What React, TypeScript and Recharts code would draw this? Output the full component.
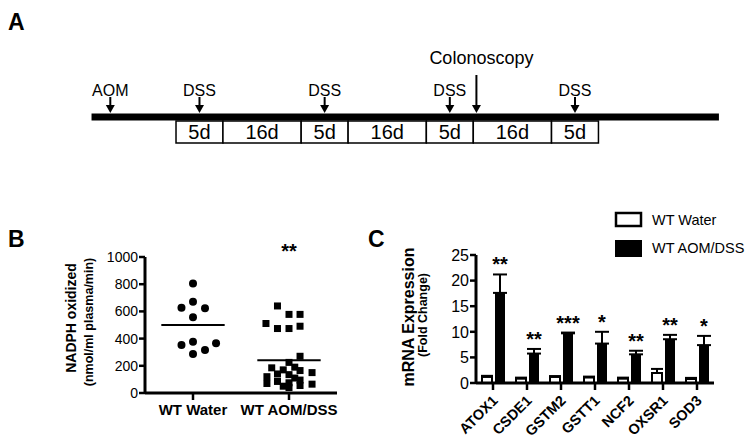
import React from 'react';
import {
  ComposedChart,
  ScatterChart,
  Scatter,
  XAxis,
  YAxis,
  ReferenceLine,
  ReferenceArea,
  ReferenceDot,
  BarChart,
  Bar,
  ErrorBar,
} from 'recharts';

const FONT = '"Liberation Sans", Arial, Helvetica, sans-serif';

// ---------------- Panel A: treatment timeline ----------------
const segmentLabels = ['5d', '16d', '5d', '16d', '5d', '16d', '5d'];
const segmentUnits = [3, 5, 3, 5, 3, 5, 3];
const eventLabels = ['AOM', 'DSS', 'DSS', 'DSS', 'DSS', 'Colonoscopy'];
const eventPositions = [-4.2, 1.5, 9.5, 17.5, 25.5, 19.2];
const timelineStart = -5.4;
const timelineEnd = 34.7;

// ---------------- Panel B: NADPH oxidized ----------------
const groupNames = ['WT Water', 'WT AOM/DSS'];
const waterValues = [806, 671, 627, 623, 557, 353, 377, 365, 316, 287];
const waterJitter = [0, 0, -0.12, 0.125, 0, -0.12, 0, 0.24, 0.125, 0];
const aomValues = [
  640, 578, 578, 511, 474, 474, 491,
  270, 225, 185, 190, 170, 165, 150, 140, 135, 120, 110, 95, 85, 70, 75, 65, 55, 50, 40,
];
const aomJitter = [
  -0.12, 0, 0.115, -0.24, -0.12, 0, 0.115,
  0.115, 0, -0.18, 0.06, -0.06, 0.115, 0.24, -0.12, 0, -0.23, 0.06, 0.115, -0.12, -0.23, 0, 0.24, 0.115, -0.06, 0,
];
const groupMeans = [500, 240];
const yTicksB = [0, 200, 400, 600, 800, 1000];
const sigB = '**';

// ---------------- Panel C: mRNA expression ----------------
const genes = ['ATOX1', 'CSDE1', 'GSTM2', 'GSTT1', 'NCF2', 'OXSR1', 'SOD3'];
const waterFold = [1.2, 0.9, 1.2, 1.1, 0.9, 1.95, 0.8];
const waterSem = [0.2, 0.15, 0.15, 0.15, 0.15, 0.8, 0.2];
const aomFold = [17.6, 5.75, 9.7, 7.7, 5.6, 8.55, 7.4];
const aomSem = [3.6, 0.9, 0.15, 2.3, 0.7, 0.85, 1.8];
const sigC = ['**', '**', '***', '*', '**', '**', '*'];
const yTicksC = [0, 5, 10, 15, 20, 25];
const seriesNamesC = ['WT Water', 'WT AOM/DSS'];

// ---------------- Panel A ----------------
const ArrowShape = (props: any) => {
  const { cx, cy, payload } = props;
  const long = payload.label === 'Colonoscopy';
  const shaftTop = cy - (long ? 38 : 16);
  const headH = 8;
  const headW = 4.5;
  return (
    <g>
      <line x1={cx} x2={cx} y1={shaftTop} y2={cy - headH + 1} stroke="#000" strokeWidth={2} />
      <polygon points={`${cx - headW},${cy - headH} ${cx + headW},${cy - headH} ${cx},${cy}`} fill="#000" />
      <text
        x={long ? cx + 5 : cx}
        y={long ? cy - 49 : cy - 17}
        textAnchor="middle"
        fontSize={long ? 18 : 16}
        fontFamily={FONT}
        fill="#000"
      >
        {payload.label}
      </text>
    </g>
  );
};

function PanelA() {
  let acc = 0;
  const boxes = segmentLabels.map((label, i) => {
    const x1 = acc;
    acc += segmentUnits[i];
    return { label, x1, x2: acc };
  });
  const events = eventLabels.map((label, i) => ({ x: eventPositions[i], y: 113, label }));
  return (
    <ComposedChart width={751} height={160} margin={{ top: 0, right: 0, bottom: 0, left: 0 }} data={events}>
      <XAxis type="number" dataKey="x" domain={[-11.25, 36.75]} hide allowDataOverflow />
      <YAxis type="number" dataKey="y" domain={[0, 160]} reversed hide allowDataOverflow />
      <ReferenceLine
        segment={[{ x: timelineStart, y: 117 }, { x: timelineEnd, y: 117 }]}
        stroke="#000"
        strokeWidth={7}
      />
      {boxes.map((b, i) => (
        <ReferenceArea
          key={i}
          x1={b.x1}
          x2={b.x2}
          y1={121}
          y2={143}
          fill="#fff"
          fillOpacity={1}
          stroke="#000"
          strokeWidth={1.5}
          label={{ value: b.label, position: 'center', fontSize: 20, fill: '#000', fontFamily: FONT }}
        />
      ))}
      <Scatter data={events} dataKey="y" isAnimationActive={false} shape={ArrowShape} />
    </ComposedChart>
  );
}

// ---------------- Panel B ----------------
const CircleDot = (p: any) => <circle cx={p.cx} cy={p.cy} r={4} fill="#000" />;
const SquareDot = (p: any) => <rect x={p.cx - 3.5} y={p.cy - 3.5} width={7} height={7} fill="#000" />;

const YTickB = (p: any) => (
  <text x={p.x} y={p.y} dy="0.36em" textAnchor="end" fontSize={14} fontFamily={FONT} fill="#000">
    {p.payload.value}
  </text>
);

const XTickB = (p: any) => (
  <text x={p.x} y={p.y} dy="0.72em" textAnchor="middle" fontSize={15} fontWeight="bold" fontFamily={FONT} fill="#000">
    {groupNames[p.payload.value - 1]}
  </text>
);

function PanelB() {
  const water = waterValues.map((v, i) => ({ x: 1 + waterJitter[i], y: v }));
  const aom = aomValues.map((v, i) => ({ x: 2 + aomJitter[i], y: v }));
  return (
    <ScatterChart width={360} height={213} margin={{ top: 27, right: 23, bottom: 20, left: 0 }}>
      <XAxis
        type="number"
        dataKey="x"
        domain={[0.5, 2.5]}
        ticks={[1, 2]}
        interval={0}
        height={30}
        tickSize={7}
        tickMargin={4}
        axisLine={{ stroke: '#000', strokeWidth: 3 }}
        tickLine={{ stroke: '#000', strokeWidth: 2.5 }}
        tick={XTickB}
        allowDataOverflow
      />
      <YAxis
        type="number"
        dataKey="y"
        domain={[0, 1000]}
        ticks={yTicksB}
        interval={0}
        width={145}
        tickSize={6}
        tickMargin={1}
        axisLine={{ stroke: '#000', strokeWidth: 3 }}
        tickLine={{ stroke: '#000', strokeWidth: 2.5 }}
        tick={YTickB}
        allowDataOverflow
      />
      {groupMeans.map((m, i) => (
        <ReferenceLine
          key={i}
          segment={[{ x: i + 1 - 0.33, y: m }, { x: i + 1 + 0.33, y: m }]}
          stroke="#000"
          strokeWidth={2}
        />
      ))}
      <Scatter data={water} fill="#000" shape={CircleDot} isAnimationActive={false} />
      <Scatter data={aom} fill="#000" shape={SquareDot} isAnimationActive={false} />
      <ReferenceDot
        x={2}
        y={1000}
        r={0}
        ifOverflow="visible"
        shape={(p: any) => (
          <text x={p.cx} y={p.cy + 1} textAnchor="middle" fontSize={20} fontWeight="bold" fontFamily={FONT} fill="#000">
            {sigB}
          </text>
        )}
      />
    </ScatterChart>
  );
}

// ---------------- Panel C ----------------
const YTickC = (p: any) => (
  <text x={p.x} y={p.y} dy="0.36em" textAnchor="end" fontSize={16} fontFamily={FONT} fill="#000">
    {p.payload.value}
  </text>
);

const GeneTick = (p: any) => (
  <g transform={`translate(${p.x + 2},${p.y + 6}) rotate(-45)`}>
    <text x={0} y={0} dy="0.35em" textAnchor="end" fontSize={14.5} fontWeight="bold" fontFamily={FONT} fill="#000">
      {p.payload.value}
    </text>
  </g>
);

const AomBarShape = (p: any) => {
  const { x, y, width, height, payload } = p;
  const pxPerUnit = payload.aom > 0 ? height / payload.aom : 0;
  const errTop = y - payload.aomSemV * pxPerUnit;
  return (
    <g>
      <rect x={x} y={y} width={width} height={height} fill="#000" />
      <text
        x={x + width / 2}
        y={errTop - 3}
        textAnchor="middle"
        fontSize={20}
        fontWeight="bold"
        fontFamily={FONT}
        fill="#000"
      >
        {payload.sig}
      </text>
    </g>
  );
};

function PanelC() {
  const data = genes.map((g, i) => ({
    gene: g,
    water: waterFold[i],
    waterErr: [0, waterSem[i]],
    aom: aomFold[i],
    aomErr: [0, aomSem[i]],
    aomSemV: aomSem[i],
    sig: sigC[i],
  }));
  return (
    <BarChart
      width={391}
      height={213}
      data={data}
      margin={{ top: 25, right: 37, bottom: 0, left: 0 }}
      barSize={10}
      barGap={3}
      barCategoryGap={0}
    >
      <XAxis
        dataKey="gene"
        interval={0}
        height={60}
        tickSize={7}
        tickMargin={2}
        axisLine={{ stroke: '#000', strokeWidth: 3 }}
        tickLine={{ stroke: '#000', strokeWidth: 2.5 }}
        tick={GeneTick}
      />
      <YAxis
        type="number"
        domain={[0, 25]}
        ticks={yTicksC}
        interval={0}
        width={116}
        tickSize={6}
        tickMargin={1}
        axisLine={{ stroke: '#000', strokeWidth: 3 }}
        tickLine={{ stroke: '#000', strokeWidth: 2.5 }}
        tick={YTickC}
      />
      <Bar dataKey="water" fill="#fff" stroke="#000" strokeWidth={2} isAnimationActive={false}>
        <ErrorBar dataKey="waterErr" width={6} stroke="#000" strokeWidth={2} direction="y" />
      </Bar>
      <Bar dataKey="aom" fill="#000" isAnimationActive={false} shape={AomBarShape}>
        <ErrorBar dataKey="aomErr" width={7} stroke="#000" strokeWidth={2} direction="y" />
      </Bar>
    </BarChart>
  );
}

// ---------------- Overlay text (panel letters, axis titles, legend) ----------------
function Overlay() {
  return (
    <svg width={751} height={443} style={{ position: 'absolute', left: 0, top: 0, pointerEvents: 'none' }}>
      <g fontFamily={FONT} fill="#000">
        <text x={8} y={30} fontSize={23} fontWeight="bold">A</text>
        <text x={8} y={247} fontSize={23} fontWeight="bold">B</text>
        <text x={368} y={247} fontSize={23} fontWeight="bold">C</text>

        <text x={71} y={318} dy="0.35em" textAnchor="middle" fontSize={14} fontWeight="bold" transform="rotate(-90 71 318)">
          NADPH oxidized
        </text>
        <text x={89} y={322} dy="0.35em" textAnchor="middle" fontSize={12.5} fontWeight="bold" transform="rotate(-90 89 322)">
          (nmol/ml plasma/min)
        </text>

        <text x={408} y={317} dy="0.35em" textAnchor="middle" fontSize={16} fontWeight="bold" transform="rotate(-90 408 317)">
          mRNA Expression
        </text>
        <text x={423} y={315} dy="0.35em" textAnchor="middle" fontSize={12.5} fontWeight="bold" transform="rotate(-90 423 315)">
          (Fold Change)
        </text>

        <rect x={616} y={213} width={25} height={13} fill="#fff" stroke="#000" strokeWidth={2.5} />
        <text x={652} y={220} dy="0.35em" fontSize={14.5}>{seriesNamesC[0]}</text>
        <rect x={615} y={240} width={27} height={17} fill="#000" />
        <text x={652} y={248} dy="0.35em" fontSize={14.5}>{seriesNamesC[1]}</text>
      </g>
    </svg>
  );
}

export default function App() {
  return (
    <div
      style={{
        position: 'absolute',
        left: 0,
        top: 0,
        width: 751,
        height: 443,
        background: '#fff',
        overflow: 'hidden',
        fontFamily: FONT,
      }}
    >
      <div style={{ position: 'absolute', left: 0, top: 0 }}>
        <PanelA />
      </div>
      <div style={{ position: 'absolute', left: 0, top: 230 }}>
        <PanelB />
      </div>
      <div style={{ position: 'absolute', left: 360, top: 230 }}>
        <PanelC />
      </div>
      <Overlay />
    </div>
  );
}
